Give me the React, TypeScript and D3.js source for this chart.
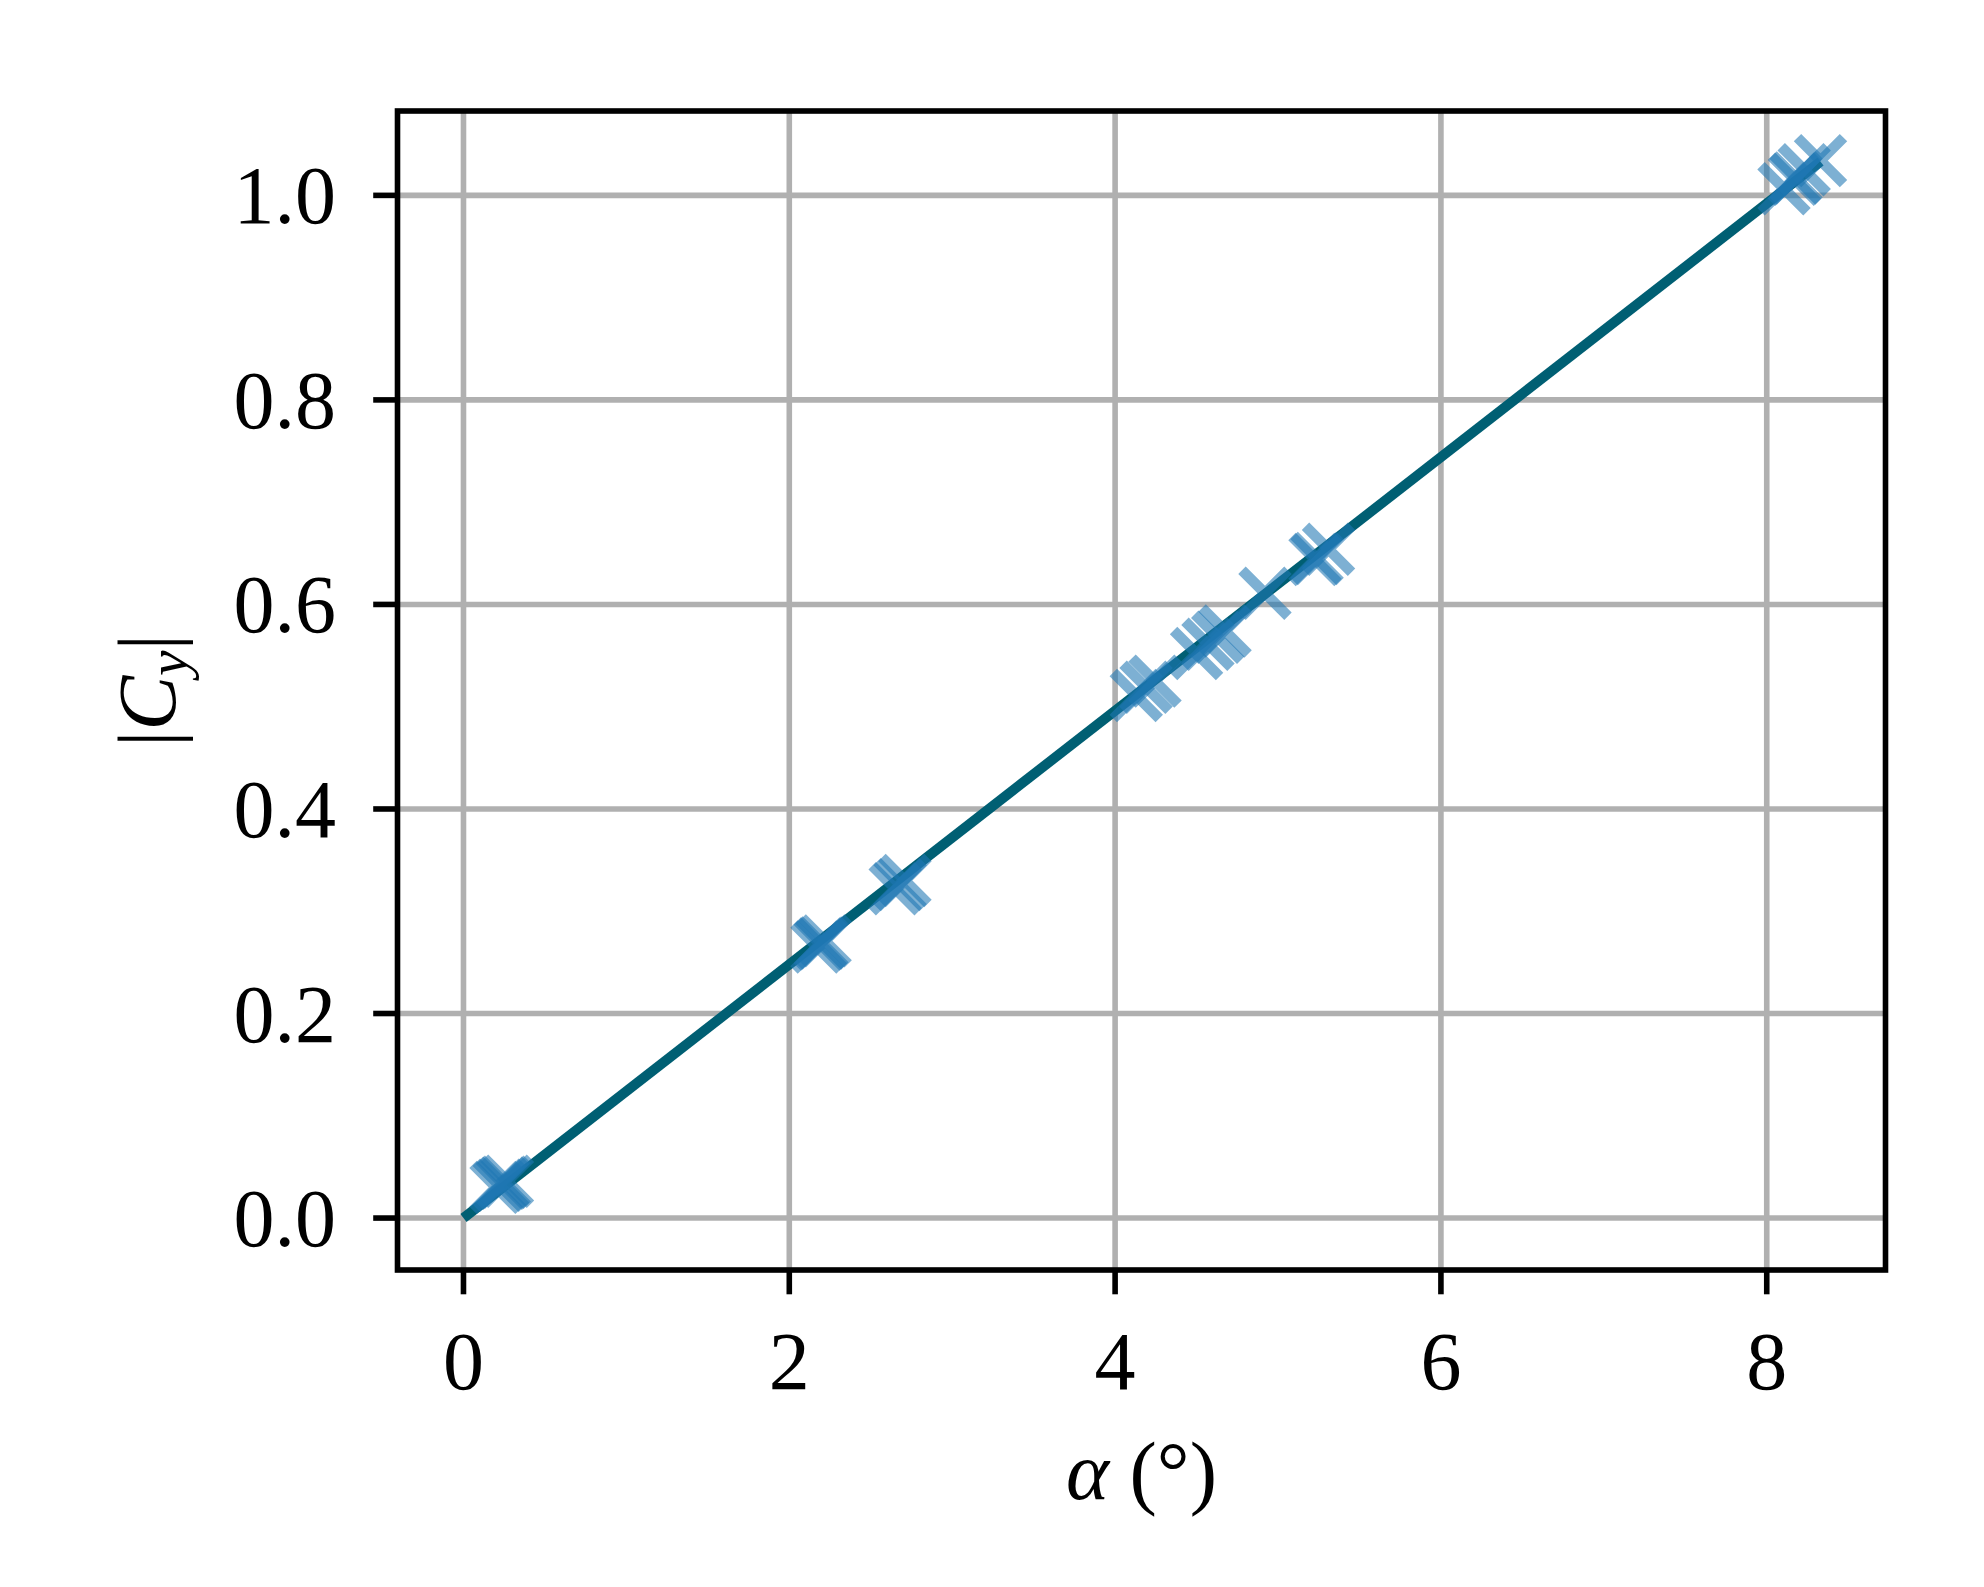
import React from "react";
import * as d3 from "d3";

// ---- data ----
const xTicks = [0, 2, 4, 6, 8];
const yTicks = [0.0, 0.2, 0.4, 0.6, 0.8, 1.0];

// measured points (alpha in degrees, |Cy|)
const alphaVals = [
  0.2, 0.22, 0.24, 0.25, 0.27,
  2.17, 2.19, 2.2, 2.22,
  2.65, 2.68, 2.71,
  4.13, 4.19, 4.245,
  4.5, 4.57, 4.63, 4.675,
  4.92,
  5.227, 5.24, 5.31,
  8.106, 8.17, 8.18, 8.23, 8.33,
];
const cyVals = [
  0.03, 0.032, 0.034, 0.035, 0.036,
  0.265, 0.268, 0.269, 0.271,
  0.322, 0.326, 0.33,
  0.511, 0.519, 0.525,
  0.552, 0.561, 0.568, 0.574,
  0.611,
  0.644, 0.645, 0.654,
  1.0065, 1.0157, 1.017, 1.025, 1.034,
];

// linear fit line
const fitX = [0, 8.33];
const fitY = [0, 1.033];

const W = 1984;
const H = 1587;
const L = 397.5, R = 1885.5, T = 111, B = 1270;

export default function App() {
  const x = d3.scaleLinear().domain([-0.405, 8.729]).range([L, R]);
  const y = d3.scaleLinear().domain([-0.0508, 1.0825]).range([B, T]);
  const line = d3.line<number>().x((d, i) => x(fitX[i])).y((d, i) => y(fitY[i]));
  const fitPath = line(fitX) || "";

  const ms = 46; // marker size px
  const half = ms / 2;
  const font = "'Times New Roman', 'Liberation Serif', Times, serif";
  const fs = 82;

  return (
    <svg
      width={W}
      height={H}
      style={{ position: "absolute", left: 0, top: 0, background: "#fff" }}
      xmlns="http://www.w3.org/2000/svg"
    >
      <rect x={0} y={0} width={W} height={H} fill="#fff" />
      {/* grid */}
      <g stroke="#b0b0b0" strokeWidth={5.6}>
        {xTicks.map((t) => (
          <line key={"gx" + t} x1={x(t)} x2={x(t)} y1={T} y2={B} />
        ))}
        {yTicks.map((t) => (
          <line key={"gy" + t} x1={L} x2={R} y1={y(t)} y2={y(t)} />
        ))}
      </g>
      {/* fit line */}
      <path d={fitPath} fill="none" stroke="#005f73" strokeWidth={10} />
      {/* markers */}
      <g stroke="#1f77b4" strokeOpacity={0.58} strokeWidth={10.5}>
        {alphaVals.map((a, i) => {
          const cx = x(a);
          const cy = y(cyVals[i]);
          return (
            <path
              key={"m" + i}
              d={`M${cx - half},${cy - half}L${cx + half},${cy + half}M${cx - half},${cy + half}L${cx + half},${cy - half}`}
              fill="none"
            />
          );
        })}
      </g>
      {/* spines */}
      <rect x={L} y={T} width={R - L} height={B - T} fill="none" stroke="#000" strokeWidth={5.6} />
      {/* ticks */}
      <g stroke="#000" strokeWidth={5.6}>
        {xTicks.map((t) => (
          <line key={"tx" + t} x1={x(t)} x2={x(t)} y1={B} y2={B + 24.3} />
        ))}
        {yTicks.map((t) => (
          <line key={"ty" + t} x1={L - 24.3} x2={L} y1={y(t)} y2={y(t)} />
        ))}
      </g>
      {/* tick labels */}
      <g fontFamily={font} fontSize={fs} fill="#000">
        {xTicks.map((t) => (
          <text key={"lx" + t} x={x(t)} y={1389} textAnchor="middle">
            {d3.format("d")(t)}
          </text>
        ))}
        {yTicks.map((t) => (
          <text key={"ly" + t} x={336} y={y(t) + 28} textAnchor="end">
            {d3.format(".1f")(t)}
          </text>
        ))}
      </g>
      {/* axis labels */}
      <text
        x={(L + R) / 2}
        y={1499}
        textAnchor="middle"
        fontFamily={font}
        fontSize={fs}
        fill="#000"
      >
        <tspan fontStyle="italic">α</tspan>
        <tspan> (°)</tspan>
      </text>
      <text
        transform={`translate(175, ${(T + B) / 2}) rotate(-90)`}
        textAnchor="middle"
        fontFamily={font}
        fontSize={fs}
        fill="#000"
      >
        <tspan>|</tspan>
        <tspan fontStyle="italic">C</tspan>
        <tspan fontStyle="italic" fontSize={fs * 0.7} dy={12}>y</tspan>
        <tspan dy={-12}>|</tspan>
      </text>
    </svg>
  );
}
